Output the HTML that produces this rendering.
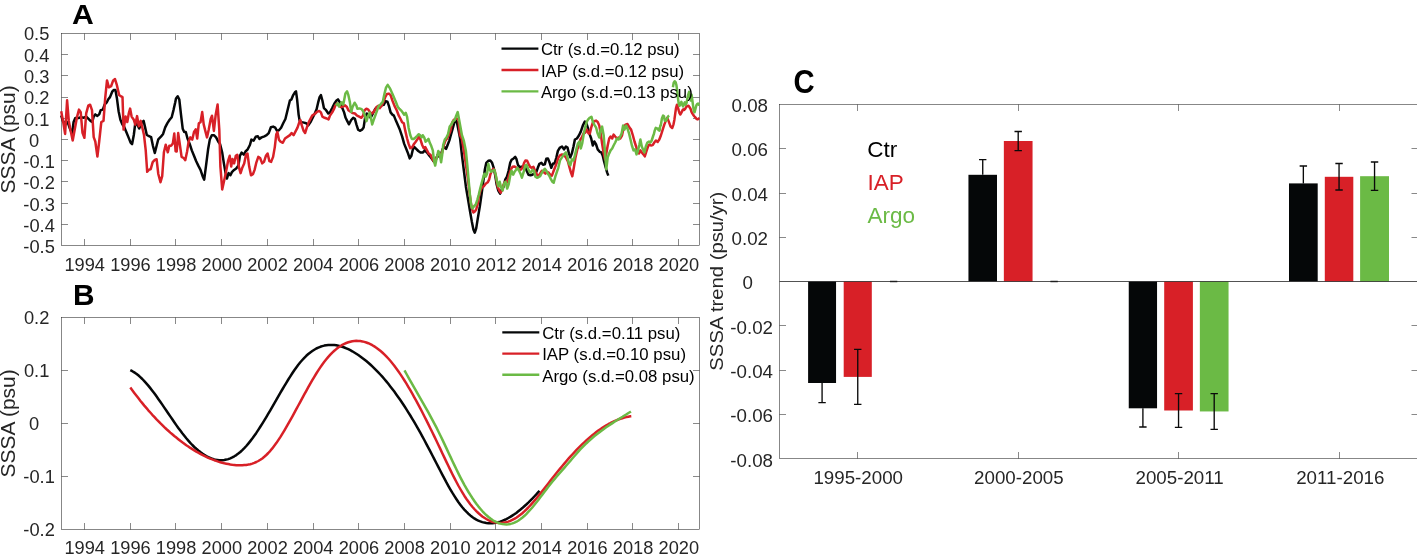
<!DOCTYPE html>
<html><head><meta charset="utf-8"><title>figure</title>
<style>
html,body{margin:0;padding:0;background:#fff;}
body{width:1417px;height:554px;overflow:hidden;}
svg{display:block;font-family:"Liberation Sans",sans-serif;will-change:transform;transform:translateZ(0);}
</style></head><body>
<svg width="1417" height="554" viewBox="0 0 1417 554">
<rect width="1417" height="554" fill="#fff"/>
<rect x="61.5" y="33.5" width="638.0" height="212.0" fill="none" stroke="#262626" stroke-width="0.55"/>
<path d="M84.50,245.5v-6.5M84.50,33.5v6.5M130.50,245.5v-6.5M130.50,33.5v6.5M175.50,245.5v-6.5M175.50,33.5v6.5M221.50,245.5v-6.5M221.50,33.5v6.5M267.50,245.5v-6.5M267.50,33.5v6.5M313.50,245.5v-6.5M313.50,33.5v6.5M358.50,245.5v-6.5M358.50,33.5v6.5M404.50,245.5v-6.5M404.50,33.5v6.5M450.50,245.5v-6.5M450.50,33.5v6.5M495.50,245.5v-6.5M495.50,33.5v6.5M541.50,245.5v-6.5M541.50,33.5v6.5M587.50,245.5v-6.5M587.50,33.5v6.5M632.50,245.5v-6.5M632.50,33.5v6.5M678.50,245.5v-6.5M678.50,33.5v6.5M61.5,224.50h6.5M699.5,224.50h-6.5M61.5,203.50h6.5M699.5,203.50h-6.5M61.5,181.50h6.5M699.5,181.50h-6.5M61.5,160.50h6.5M699.5,160.50h-6.5M61.5,139.50h6.5M699.5,139.50h-6.5M61.5,118.50h6.5M699.5,118.50h-6.5M61.5,97.50h6.5M699.5,97.50h-6.5M61.5,75.50h6.5M699.5,75.50h-6.5M61.5,54.50h6.5M699.5,54.50h-6.5" fill="none" stroke="#262626" stroke-width="0.55"/>
<text transform="translate(84.70,270.50) scale(1.03,1)" text-anchor="middle" font-size="17.7" fill="#262626" font-weight="normal" >1994</text>
<text transform="translate(130.40,270.50) scale(1.03,1)" text-anchor="middle" font-size="17.7" fill="#262626" font-weight="normal" >1996</text>
<text transform="translate(176.10,270.50) scale(1.03,1)" text-anchor="middle" font-size="17.7" fill="#262626" font-weight="normal" >1998</text>
<text transform="translate(221.80,270.50) scale(1.03,1)" text-anchor="middle" font-size="17.7" fill="#262626" font-weight="normal" >2000</text>
<text transform="translate(267.50,270.50) scale(1.03,1)" text-anchor="middle" font-size="17.7" fill="#262626" font-weight="normal" >2002</text>
<text transform="translate(313.20,270.50) scale(1.03,1)" text-anchor="middle" font-size="17.7" fill="#262626" font-weight="normal" >2004</text>
<text transform="translate(358.90,270.50) scale(1.03,1)" text-anchor="middle" font-size="17.7" fill="#262626" font-weight="normal" >2006</text>
<text transform="translate(404.60,270.50) scale(1.03,1)" text-anchor="middle" font-size="17.7" fill="#262626" font-weight="normal" >2008</text>
<text transform="translate(450.30,270.50) scale(1.03,1)" text-anchor="middle" font-size="17.7" fill="#262626" font-weight="normal" >2010</text>
<text transform="translate(496.00,270.50) scale(1.03,1)" text-anchor="middle" font-size="17.7" fill="#262626" font-weight="normal" >2012</text>
<text transform="translate(541.70,270.50) scale(1.03,1)" text-anchor="middle" font-size="17.7" fill="#262626" font-weight="normal" >2014</text>
<text transform="translate(587.40,270.50) scale(1.03,1)" text-anchor="middle" font-size="17.7" fill="#262626" font-weight="normal" >2016</text>
<text transform="translate(633.10,270.50) scale(1.03,1)" text-anchor="middle" font-size="17.7" fill="#262626" font-weight="normal" >2018</text>
<text transform="translate(678.80,270.50) scale(1.03,1)" text-anchor="middle" font-size="17.7" fill="#262626" font-weight="normal" >2020</text>
<text transform="translate(23.30,253.20) scale(1.035,1)" text-anchor="start" font-size="17.7" fill="#262626" font-weight="normal" >-0.5</text>
<text transform="translate(23.30,231.92) scale(1.035,1)" text-anchor="start" font-size="17.7" fill="#262626" font-weight="normal" >-0.4</text>
<text transform="translate(23.30,210.64) scale(1.035,1)" text-anchor="start" font-size="17.7" fill="#262626" font-weight="normal" >-0.3</text>
<text transform="translate(23.30,189.36) scale(1.035,1)" text-anchor="start" font-size="17.7" fill="#262626" font-weight="normal" >-0.2</text>
<text transform="translate(23.30,168.08) scale(1.035,1)" text-anchor="start" font-size="17.7" fill="#262626" font-weight="normal" >-0.1</text>
<text transform="translate(28.90,146.80) scale(1.035,1)" text-anchor="start" font-size="17.7" fill="#262626" font-weight="normal" >0</text>
<text transform="translate(23.90,125.52) scale(1.035,1)" text-anchor="start" font-size="17.7" fill="#262626" font-weight="normal" >0.1</text>
<text transform="translate(23.90,104.24) scale(1.035,1)" text-anchor="start" font-size="17.7" fill="#262626" font-weight="normal" >0.2</text>
<text transform="translate(23.90,82.96) scale(1.035,1)" text-anchor="start" font-size="17.7" fill="#262626" font-weight="normal" >0.3</text>
<text transform="translate(23.90,61.68) scale(1.035,1)" text-anchor="start" font-size="17.7" fill="#262626" font-weight="normal" >0.4</text>
<text transform="translate(23.90,40.40) scale(1.035,1)" text-anchor="start" font-size="17.7" fill="#262626" font-weight="normal" >0.5</text>
<text transform="translate(14.6,139.4) rotate(-90) scale(1.046,1)" text-anchor="middle" font-size="20" fill="#262626">SSSA (psu)</text>
<text transform="translate(72.00,23.70) scale(1.06,1)" text-anchor="start" font-size="28.5" fill="#000" font-weight="bold" >A</text>
<rect x="61.5" y="317.5" width="638.0" height="212.0" fill="none" stroke="#262626" stroke-width="0.55"/>
<path d="M84.50,529.5v-6.5M84.50,317.5v6.5M130.50,529.5v-6.5M130.50,317.5v6.5M175.50,529.5v-6.5M175.50,317.5v6.5M221.50,529.5v-6.5M221.50,317.5v6.5M267.50,529.5v-6.5M267.50,317.5v6.5M313.50,529.5v-6.5M313.50,317.5v6.5M358.50,529.5v-6.5M358.50,317.5v6.5M404.50,529.5v-6.5M404.50,317.5v6.5M450.50,529.5v-6.5M450.50,317.5v6.5M495.50,529.5v-6.5M495.50,317.5v6.5M541.50,529.5v-6.5M541.50,317.5v6.5M587.50,529.5v-6.5M587.50,317.5v6.5M632.50,529.5v-6.5M632.50,317.5v6.5M678.50,529.5v-6.5M678.50,317.5v6.5M61.5,476.50h6.5M699.5,476.50h-6.5M61.5,423.50h6.5M699.5,423.50h-6.5M61.5,370.50h6.5M699.5,370.50h-6.5" fill="none" stroke="#262626" stroke-width="0.55"/>
<text transform="translate(84.70,554.20) scale(1.03,1)" text-anchor="middle" font-size="17.7" fill="#262626" font-weight="normal" >1994</text>
<text transform="translate(130.40,554.20) scale(1.03,1)" text-anchor="middle" font-size="17.7" fill="#262626" font-weight="normal" >1996</text>
<text transform="translate(176.10,554.20) scale(1.03,1)" text-anchor="middle" font-size="17.7" fill="#262626" font-weight="normal" >1998</text>
<text transform="translate(221.80,554.20) scale(1.03,1)" text-anchor="middle" font-size="17.7" fill="#262626" font-weight="normal" >2000</text>
<text transform="translate(267.50,554.20) scale(1.03,1)" text-anchor="middle" font-size="17.7" fill="#262626" font-weight="normal" >2002</text>
<text transform="translate(313.20,554.20) scale(1.03,1)" text-anchor="middle" font-size="17.7" fill="#262626" font-weight="normal" >2004</text>
<text transform="translate(358.90,554.20) scale(1.03,1)" text-anchor="middle" font-size="17.7" fill="#262626" font-weight="normal" >2006</text>
<text transform="translate(404.60,554.20) scale(1.03,1)" text-anchor="middle" font-size="17.7" fill="#262626" font-weight="normal" >2008</text>
<text transform="translate(450.30,554.20) scale(1.03,1)" text-anchor="middle" font-size="17.7" fill="#262626" font-weight="normal" >2010</text>
<text transform="translate(496.00,554.20) scale(1.03,1)" text-anchor="middle" font-size="17.7" fill="#262626" font-weight="normal" >2012</text>
<text transform="translate(541.70,554.20) scale(1.03,1)" text-anchor="middle" font-size="17.7" fill="#262626" font-weight="normal" >2014</text>
<text transform="translate(587.40,554.20) scale(1.03,1)" text-anchor="middle" font-size="17.7" fill="#262626" font-weight="normal" >2016</text>
<text transform="translate(633.10,554.20) scale(1.03,1)" text-anchor="middle" font-size="17.7" fill="#262626" font-weight="normal" >2018</text>
<text transform="translate(678.80,554.20) scale(1.03,1)" text-anchor="middle" font-size="17.7" fill="#262626" font-weight="normal" >2020</text>
<text transform="translate(23.30,536.40) scale(1.035,1)" text-anchor="start" font-size="17.7" fill="#262626" font-weight="normal" >-0.2</text>
<text transform="translate(23.30,483.40) scale(1.035,1)" text-anchor="start" font-size="17.7" fill="#262626" font-weight="normal" >-0.1</text>
<text transform="translate(28.90,430.40) scale(1.035,1)" text-anchor="start" font-size="17.7" fill="#262626" font-weight="normal" >0</text>
<text transform="translate(23.90,377.40) scale(1.035,1)" text-anchor="start" font-size="17.7" fill="#262626" font-weight="normal" >0.1</text>
<text transform="translate(23.90,324.40) scale(1.035,1)" text-anchor="start" font-size="17.7" fill="#262626" font-weight="normal" >0.2</text>
<text transform="translate(14.6,423.4) rotate(-90) scale(1.046,1)" text-anchor="middle" font-size="20" fill="#262626">SSSA (psu)</text>
<text transform="translate(73.00,304.60) scale(1.03,1)" text-anchor="start" font-size="29.0" fill="#000" font-weight="bold" >B</text>
<rect x="779.5" y="104.5" width="638.5" height="354.0" fill="none" stroke="#262626" stroke-width="0.55"/>
<path d="M857.50,458.5v-6.5M857.50,104.5v6.5M1018.50,458.5v-6.5M1018.50,104.5v6.5M1178.50,458.5v-6.5M1178.50,104.5v6.5M1339.50,458.5v-6.5M1339.50,104.5v6.5M779.5,414.50h6.5M1418,414.50h-6.5M779.5,370.50h6.5M1418,370.50h-6.5M779.5,325.50h6.5M1418,325.50h-6.5M779.5,237.50h6.5M1418,237.50h-6.5M779.5,193.50h6.5M1418,193.50h-6.5M779.5,148.50h6.5M1418,148.50h-6.5" fill="none" stroke="#262626" stroke-width="0.55"/>
<text transform="translate(858.20,483.90) scale(1.03,1)" text-anchor="middle" font-size="18.2" fill="#262626" font-weight="normal" >1995-2000</text>
<text transform="translate(1018.90,483.90) scale(1.03,1)" text-anchor="middle" font-size="18.2" fill="#262626" font-weight="normal" >2000-2005</text>
<text transform="translate(1179.60,483.90) scale(1.03,1)" text-anchor="middle" font-size="18.2" fill="#262626" font-weight="normal" >2005-2011</text>
<text transform="translate(1340.30,483.90) scale(1.03,1)" text-anchor="middle" font-size="18.2" fill="#262626" font-weight="normal" >2011-2016</text>
<text transform="translate(730.30,466.60) scale(1.03,1)" text-anchor="start" font-size="18.2" fill="#262626" font-weight="normal" >-0.08</text>
<text transform="translate(730.30,422.26) scale(1.03,1)" text-anchor="start" font-size="18.2" fill="#262626" font-weight="normal" >-0.06</text>
<text transform="translate(730.30,377.92) scale(1.03,1)" text-anchor="start" font-size="18.2" fill="#262626" font-weight="normal" >-0.04</text>
<text transform="translate(730.30,333.59) scale(1.03,1)" text-anchor="start" font-size="18.2" fill="#262626" font-weight="normal" >-0.02</text>
<text transform="translate(742.40,289.25) scale(1.03,1)" text-anchor="start" font-size="18.2" fill="#262626" font-weight="normal" >0</text>
<text transform="translate(731.50,244.91) scale(1.03,1)" text-anchor="start" font-size="18.2" fill="#262626" font-weight="normal" >0.02</text>
<text transform="translate(731.50,200.58) scale(1.03,1)" text-anchor="start" font-size="18.2" fill="#262626" font-weight="normal" >0.04</text>
<text transform="translate(731.50,156.24) scale(1.03,1)" text-anchor="start" font-size="18.2" fill="#262626" font-weight="normal" >0.06</text>
<text transform="translate(731.50,111.90) scale(1.03,1)" text-anchor="start" font-size="18.2" fill="#262626" font-weight="normal" >0.08</text>
<text transform="translate(723,281.15) rotate(-90) scale(1.053,1)" text-anchor="middle" font-size="19.25" fill="#262626">SSSA trend (psu/yr)</text>
<text transform="translate(793.60,92.55) scale(0.9,1)" text-anchor="start" font-size="32.5" fill="#000" font-weight="bold" >C</text>
<rect x="808.10" y="281.50" width="27.95" height="101.50" fill="#050708"/>
<rect x="843.70" y="281.50" width="28.10" height="95.40" fill="#d82027"/>
<rect x="968.45" y="174.80" width="28.55" height="106.70" fill="#050708"/>
<rect x="1003.85" y="141.00" width="28.70" height="140.50" fill="#d82027"/>
<rect x="1128.75" y="281.50" width="28.30" height="126.80" fill="#050708"/>
<rect x="1164.20" y="281.50" width="28.70" height="129.00" fill="#d82027"/>
<rect x="1199.85" y="281.50" width="28.70" height="129.95" fill="#6bba45"/>
<rect x="1289.00" y="183.40" width="28.70" height="98.10" fill="#050708"/>
<rect x="1324.80" y="176.80" width="28.50" height="104.70" fill="#d82027"/>
<rect x="1360.10" y="176.20" width="28.90" height="105.30" fill="#6bba45"/>
<path d="M889.90,281.5h7.4" stroke="#000" stroke-width="1.4"/>
<path d="M1050.40,281.5h7.4" stroke="#000" stroke-width="1.4"/>
<path d="M822.08,383.00V402.60M818.38,402.60h7.4" stroke="#0a0a0a" stroke-width="1.35" fill="none"/>
<path d="M857.75,349.40V404.40M854.05,349.40h7.4M854.05,404.40h7.4" stroke="#0a0a0a" stroke-width="1.35" fill="none"/>
<path d="M982.73,159.65V174.80M979.02,159.65h7.4" stroke="#0a0a0a" stroke-width="1.35" fill="none"/>
<path d="M1018.20,131.50V150.55M1014.50,131.50h7.4M1014.50,150.55h7.4" stroke="#0a0a0a" stroke-width="1.35" fill="none"/>
<path d="M1142.90,408.30V426.95M1139.20,426.95h7.4" stroke="#0a0a0a" stroke-width="1.35" fill="none"/>
<path d="M1178.55,393.60V427.40M1174.85,393.60h7.4M1174.85,427.40h7.4" stroke="#0a0a0a" stroke-width="1.35" fill="none"/>
<path d="M1214.20,393.60V429.40M1210.50,393.60h7.4M1210.50,429.40h7.4" stroke="#0a0a0a" stroke-width="1.35" fill="none"/>
<path d="M1303.35,165.95V183.40M1299.65,165.95h7.4" stroke="#0a0a0a" stroke-width="1.35" fill="none"/>
<path d="M1339.05,163.50V189.95M1335.35,163.50h7.4M1335.35,189.95h7.4" stroke="#0a0a0a" stroke-width="1.35" fill="none"/>
<path d="M1374.55,162.00V190.40M1370.85,162.00h7.4M1370.85,190.40h7.4" stroke="#0a0a0a" stroke-width="1.35" fill="none"/>
<path d="M779.5,281.5H1418" stroke="#262626" stroke-width="0.8"/>
<text x="867.20" y="157.00" text-anchor="start" font-size="22.5" fill="#000" font-weight="normal" >Ctr</text>
<text x="867.60" y="189.80" text-anchor="start" font-size="22.5" fill="#d82027" font-weight="normal" >IAP</text>
<text x="867.60" y="222.70" text-anchor="start" font-size="22.5" fill="#6bba45" font-weight="normal" >Argo</text>
<clipPath id="ca"><rect x="60" y="33.5" width="640.5" height="212"/></clipPath><g clip-path="url(#ca)">
<path d="M61.2,115.5L62.8,120.9L65.6,124.2L67.7,122.0L69.9,128.5L72.1,133.9L73.6,122.0L75.3,118.1L78.6,118.1L80.7,117.2L84.0,117.7L86.2,116.6L88.3,118.7L90.5,120.9L92.2,122.0L93.7,116.6L95.3,114.4L97.4,115.9L99.2,114.4L100.7,110.1L102.8,109.6L104.6,104.7L106.7,102.5L108.3,99.2L110.0,97.1L112.2,91.7L113.9,89.9L115.4,89.9L116.9,98.2L118.6,111.2L120.4,119.8L122.3,124.2L124.1,126.8L126.2,131.7L128.4,137.1L130.6,142.6L132.1,144.1L133.8,135.0L135.3,123.1L137.1,124.2L139.2,128.5L141.4,123.1L143.6,120.9L145.1,127.4L146.8,135.0L149.0,136.1L151.1,137.1L152.9,145.8L154.8,153.0L156.6,145.8L158.3,139.3L160.9,136.7L163.1,133.9L165.2,127.4L167.4,123.1L169.6,119.8L171.7,117.2L173.5,110.1L175.2,102.5L176.0,98.4L177.7,96.2L179.3,99.5L181.0,114.7L182.7,128.7L184.2,132.0L185.8,132.0L187.5,138.5L189.7,143.9L191.8,150.4L194.0,155.8L196.2,161.2L198.3,165.6L200.5,169.9L202.7,176.4L204.2,179.6L205.9,166.6L208.1,149.3L209.8,139.6L211.8,135.2L213.9,135.2L216.1,137.4L218.3,141.7L220.0,143.9L222.2,152.6L223.9,163.4L225.4,172.1L226.9,178.6L228.6,173.1L230.4,175.3L231.9,172.1L234.1,169.9L236.2,168.4L238.4,165.6L239.9,155.8L241.6,152.6L243.8,154.7L245.5,151.5L247.7,149.3L249.9,145.0L251.4,139.6L253.6,140.6L255.7,136.8L257.9,136.3L259.4,138.9L261.6,137.4L264.4,136.3L266.6,135.2L268.7,133.1L270.9,127.2L273.1,126.6L275.2,127.7L277.0,130.9L278.9,130.3L281.1,127.7L283.2,123.3L285.4,119.0L289.9,100.5L291.4,99.4L293.2,95.1L294.9,92.3L296.0,91.4L297.1,99.4L298.6,114.6L299.7,121.1L301.8,122.1L304.0,122.6L306.2,123.2L308.3,125.4L310.5,122.1L312.7,117.8L314.8,113.5L316.6,109.2L318.1,102.7L319.6,97.2L320.9,95.1L322.4,100.5L323.9,108.1L326.1,110.2L328.3,113.5L330.0,112.4L332.2,108.1L334.3,103.7L336.5,100.5L338.0,99.4L339.7,102.2L341.9,107.0L344.1,112.4L345.6,117.8L347.3,121.1L349.0,124.3L351.2,120.0L353.2,117.8L354.9,118.9L356.4,124.3L358.1,129.7L359.9,130.8L362.0,129.7L363.6,127.6L365.1,117.8L366.8,113.5L369.0,114.6L370.7,117.8L372.9,113.5L375.0,109.2L377.2,107.0L379.4,105.9L381.5,105.3L383.7,104.8L385.7,101.1L387.4,101.6L388.9,105.9L390.6,112.4L392.4,114.6L393.9,115.6L396.1,121.1L399.9,129.8L402.1,136.3L404.2,143.9L406.4,149.3L408.1,153.6L409.7,158.4L411.4,155.8L412.9,149.3L414.4,147.1L416.2,148.9L418.3,151.0L420.5,152.6L422.7,152.6L424.8,150.4L427.0,152.6L429.2,155.4L431.3,158.0L433.1,160.6L434.6,162.3L436.1,158.4L437.8,154.7L439.6,156.9L441.1,153.6L442.6,149.3L444.3,147.1L446.1,148.9L447.6,145.0L449.3,140.6L450.8,135.2L452.3,129.8L454.1,123.3L455.6,120.1L456.9,122.2L458.4,129.8L460.1,138.5L461.9,154.9L463.9,170.8L465.9,186.7L467.9,198.6L469.9,210.5L471.8,221.4L473.4,229.4L474.8,232.7L476.2,228.4L477.8,218.4L479.8,206.5L481.8,192.6L483.4,180.7L484.8,169.8L486.3,162.8L488.3,160.8L490.3,160.4L492.1,162.8L493.7,167.8L495.3,175.7L496.7,184.7L498.3,190.6L500.1,193.6L501.6,189.6L503.6,186.7L505.2,179.7L507.0,176.7L508.6,170.8L510.2,162.8L511.6,159.8L513.6,158.4L515.2,156.9L516.5,159.2L517.9,164.8L519.5,167.2L521.5,166.8L523.5,166.4L525.5,167.8L527.1,171.8L528.5,174.7L530.5,175.3L532.4,174.7L534.4,173.7L536.4,171.8L537.8,167.8L539.4,163.8L541.4,162.8L543.0,164.8L544.8,164.4L546.3,158.8L547.9,158.4L549.7,162.8L551.3,167.8L552.9,163.8L554.7,163.2L556.3,157.8L557.9,150.9L560.0,147.5L562.0,146.5L564.0,149.4L565.9,146.5L567.5,147.5L568.9,153.4L570.3,157.4L571.9,153.4L573.5,146.5L574.9,139.5L576.9,138.5L578.9,135.5L580.8,131.6L582.8,125.6L584.8,121.6L586.2,122.6L587.8,127.6L589.4,133.6L591.2,138.5L592.8,145.5L594.3,141.5L596.1,144.5L597.7,149.4L599.7,151.8L601.3,152.4L602.7,155.4L604.1,161.4L605.7,167.3L607.1,172.3L608.3,175.7" fill="none" stroke="#050708" stroke-width="2.5" stroke-linejoin="round" stroke-linecap="butt"/>
<path d="M61.2,111.2L63.0,120.9L65.1,133.9L67.1,100.3L68.8,120.9L70.6,130.6L72.7,140.4L74.9,128.5L77.1,116.6L79.0,109.6L80.7,112.2L82.5,132.8L84.4,137.8L86.2,113.3L88.3,105.7L90.1,104.7L92.0,110.1L93.7,137.1L95.3,141.5L97.4,156.6L99.2,141.5L101.3,122.0L103.5,120.9L105.2,98.2L107.0,80.4L108.9,87.3L111.1,86.2L113.2,80.4L115.0,79.1L116.9,85.2L119.1,94.9L121.2,96.4L122.5,97.1L123.6,129.6L125.6,116.6L127.3,122.0L128.8,113.3L130.1,108.6L131.6,116.6L133.8,119.8L135.3,124.6L137.1,116.1L138.8,126.3L140.7,120.9L142.5,128.5L144.0,135.0L145.7,150.1L147.2,171.8L149.0,169.6L150.7,169.2L152.7,162.1L154.8,159.9L156.6,159.2L158.3,174.0L160.5,182.2L162.2,176.1L163.9,152.3L165.7,144.7L167.8,152.3L169.3,145.8L171.1,145.8L172.8,143.6L174.3,133.5L175.6,151.2L176.7,151.5L178.2,133.1L179.9,145.0L181.6,156.9L183.6,158.0L185.3,160.1L187.1,151.5L188.6,141.7L190.3,137.4L192.3,139.6L194.0,132.0L195.7,129.4L197.2,138.5L198.8,123.3L200.5,122.2L202.2,112.1L203.7,124.4L205.3,130.9L207.0,137.4L208.7,129.8L210.7,119.0L212.0,115.7L213.9,130.9L215.7,114.7L217.6,104.5L219.3,129.8L220.4,166.6L222.2,189.4L223.9,181.8L225.8,173.1L228.0,161.2L229.7,155.8L231.2,166.6L232.5,159.1L234.1,163.4L235.8,155.8L237.3,154.7L239.0,167.7L240.6,173.1L242.3,167.7L244.2,163.4L246.0,154.7L247.5,153.6L249.2,166.6L251.0,175.3L252.9,174.2L254.6,169.9L256.4,162.3L258.3,156.9L260.1,158.0L262.2,163.4L264.0,161.9L265.9,155.8L267.6,153.6L269.4,161.2L271.1,161.9L273.1,156.9L274.8,147.1L276.3,134.2L277.4,132.0L278.9,139.6L280.6,141.7L282.8,142.8L285.0,138.5L289.9,135.1L291.6,133.0L293.6,135.1L295.3,131.9L297.5,127.6L299.0,123.2L300.3,120.0L301.8,125.4L303.6,130.8L305.1,133.0L306.8,127.6L308.8,122.1L310.5,118.9L312.2,115.6L313.7,114.6L315.3,113.5L317.0,111.8L319.2,110.9L320.9,112.4L322.4,116.7L324.6,117.8L326.7,118.5L328.5,119.5L330.0,115.6L332.2,112.4L333.9,109.2L335.4,105.3L336.9,103.7L338.6,105.3L340.8,107.0L343.0,106.6L345.1,105.3L346.9,107.0L348.4,110.2L350.6,111.8L352.7,113.1L354.9,113.5L357.1,115.6L359.2,116.7L361.4,117.8L363.1,115.6L364.6,110.2L366.4,108.7L368.3,109.6L370.1,112.4L372.2,113.5L374.4,110.9L376.6,107.0L378.3,105.9L379.8,108.1L381.5,105.9L383.5,101.6L385.2,97.2L387.0,94.0L388.9,93.6L390.6,95.1L392.4,100.5L394.5,105.9L396.7,110.2L398.8,115.7L400.6,119.0L402.1,122.2L403.8,123.3L405.3,130.9L407.1,138.5L408.6,143.9L410.3,148.2L412.3,147.1L414.0,143.9L415.7,141.7L417.2,139.6L419.0,136.8L420.5,139.6L422.2,145.0L423.7,148.2L425.3,147.1L427.0,150.4L428.7,153.6L430.5,154.7L432.4,159.1L434.1,161.9L435.7,160.1L437.4,155.8L438.9,152.6L440.4,155.8L442.2,152.6L443.9,145.0L445.4,140.6L447.1,138.5L448.6,135.2L450.4,130.9L451.9,123.3L453.6,120.1L455.1,119.0L456.9,118.6L458.4,119.0L459.9,135.0L461.9,139.0L463.9,150.9L465.9,164.8L467.9,178.7L469.5,192.6L470.8,202.5L472.2,209.5L473.4,212.5L474.8,211.5L476.2,209.5L477.8,203.5L479.2,194.6L480.8,189.6L482.2,187.1L483.8,186.3L485.7,183.7L487.7,182.3L489.1,179.7L490.3,174.7L491.7,170.8L493.3,168.8L494.7,170.8L496.3,178.7L497.7,186.7L499.3,190.6L500.6,192.6L502.0,190.6L503.6,184.7L505.2,181.7L506.6,182.7L508.2,178.7L509.6,173.7L511.2,168.8L512.6,166.8L514.6,166.4L516.5,167.8L518.5,169.2L520.5,169.8L522.5,167.8L524.1,162.8L525.5,160.4L527.1,160.8L528.5,163.8L530.1,166.8L531.4,167.8L533.4,166.8L535.4,171.8L537.0,174.7L538.4,175.7L540.0,173.7L541.8,170.8L543.4,171.8L545.4,173.7L546.9,171.8L548.7,172.7L550.3,174.7L551.9,175.7L553.3,171.8L554.9,167.8L556.7,162.8L558.3,157.8L560.0,155.4L562.0,154.4L564.0,155.4L565.9,157.4L567.9,161.4L569.5,167.3L570.9,172.3L572.3,176.3L573.9,167.3L575.5,157.4L577.3,149.4L578.9,145.5L580.4,139.5L581.8,137.5L583.4,133.6L585.2,132.6L586.8,129.6L588.4,133.2L589.8,133.6L591.2,127.6L592.8,122.6L594.3,121.2L596.1,120.6L597.7,122.0L599.3,125.6L600.7,133.6L602.1,143.5L603.7,153.4L605.1,159.4L606.3,153.4L607.7,145.5L609.2,138.5L610.6,136.5L612.2,138.5L613.6,134.6L615.2,136.5L617.0,138.5L618.6,137.5L620.2,138.5L622.0,135.5L623.5,128.6L625.5,124.6L627.5,124.0L629.5,127.6L631.1,129.6L632.9,135.5L634.5,141.5L636.1,146.5L637.4,151.4L639.0,153.4L640.4,150.4L641.8,152.4L643.4,154.4L644.8,156.4L646.4,151.4L648.0,146.5L649.4,144.5L651.0,145.5L652.7,145.1L654.3,142.5L655.9,140.5L657.7,141.9L659.3,139.5L660.9,135.5L662.7,129.6L664.3,124.6L665.9,120.6L667.2,117.7L668.8,121.6L670.6,126.6L672.2,128.0L673.5,124.3L674.4,119.7L675.2,113.9L676.0,108.1L677.0,104.7L677.8,107.0L678.7,110.4L679.6,113.3L680.4,114.5L681.4,112.7L682.4,110.4L683.3,109.3L684.2,109.9L685.3,108.7L686.2,107.0L687.4,106.0L688.5,105.8L689.4,107.0L690.5,108.7L691.4,111.6L692.3,113.3L693.4,115.1L694.3,116.2L695.5,117.6L696.6,119.1L697.8,119.4L698.9,118.5L699.5,118.3" fill="none" stroke="#d82027" stroke-width="2.5" stroke-linejoin="round" stroke-linecap="butt"/>
<path d="M335.7,105.4L337.9,103.3L338.9,106.5L341.7,102.2L343.3,104.4L345.4,93.5L347.1,91.4L348.4,95.2L349.8,101.7L351.2,111.9L352.5,107.1L354.6,102.7L356.3,105.4L357.3,108.7L359.5,108.4L361.7,109.2L363.3,111.4L364.9,115.7L366.5,121.1L368.2,115.7L369.8,112.5L370.9,117.9L372.2,124.4L373.6,120.1L375.2,115.7L376.8,111.4L378.5,106.5L380.6,104.4L382.8,101.7L384.4,94.1L386.0,87.6L387.7,84.9L389.8,88.1L392.5,94.1L395.8,101.7L397.9,107.1L399.3,108.6L401.0,110.3L402.7,112.5L404.2,114.7L405.8,112.9L407.1,116.8L408.6,127.7L410.3,135.2L411.8,138.9L413.6,138.9L415.5,137.4L417.2,135.9L418.8,134.2L420.1,135.2L421.6,137.4L422.7,135.2L424.2,137.4L425.5,141.7L427.0,140.6L428.5,138.9L429.8,142.8L431.3,146.1L432.8,150.4L434.1,161.2L435.2,165.6L436.7,158.0L438.3,151.0L439.6,153.6L441.1,162.3L442.2,154.7L443.2,145.0L444.8,139.6L446.5,137.4L448.0,134.2L449.7,126.6L451.5,124.4L453.0,121.2L454.7,120.1L456.2,115.7L457.7,112.1L461.9,135.0L463.9,141.0L465.9,150.9L467.3,164.8L468.5,178.7L469.9,194.6L471.2,205.5L472.4,208.5L473.8,206.5L475.8,204.5L477.4,199.6L478.8,194.6L480.2,188.6L481.8,182.7L483.2,177.7L484.4,173.7L485.7,176.7L487.1,173.7L488.3,163.8L489.7,169.8L491.1,171.8L492.7,170.8L494.3,169.8L495.7,174.7L497.1,181.7L498.3,186.3L499.7,181.7L501.0,187.1L502.6,190.6L504.0,183.7L505.6,181.7L507.2,188.6L508.6,184.7L510.2,175.7L511.6,170.8L513.2,174.7L514.6,171.8L516.1,169.8L517.5,167.8L519.1,170.8L520.5,173.7L521.9,177.7L523.5,172.7L525.1,165.8L526.5,164.8L528.1,168.8L529.5,171.8L531.0,172.7L532.4,169.8L534.0,170.8L535.4,176.7L537.0,177.7L538.4,177.3L540.0,176.3L541.4,173.7L543.0,170.8L544.8,168.8L546.3,170.8L547.9,173.7L549.3,175.7L550.9,179.1L552.3,181.7L553.7,182.7L555.3,176.7L556.9,171.8L558.3,167.8L560.0,160.4L562.0,157.4L564.0,154.4L565.9,152.4L567.5,157.4L568.9,163.4L570.3,165.3L571.9,159.4L573.5,160.4L574.9,155.4L576.3,149.4L577.9,143.5L579.5,141.5L580.8,148.5L582.2,143.5L583.8,133.6L585.4,126.6L586.8,121.6L588.2,119.3L589.8,117.7L591.4,116.7L592.8,121.6L594.3,124.6L596.1,127.6L597.7,133.6L599.3,137.5L600.7,129.6L602.1,126.6L603.7,135.5L605.1,153.4L606.3,169.3L607.7,157.4L609.2,153.4L610.6,150.4L612.2,148.5L613.6,145.5L615.2,142.5L617.0,138.5L618.6,139.5L620.2,136.5L621.6,133.6L623.1,125.6L624.5,129.6L626.1,125.6L627.5,128.6L629.1,133.6L630.5,139.5L631.9,145.5L633.5,150.4L635.1,149.4L636.5,154.4L637.8,151.4L639.4,144.5L640.4,139.5L641.8,146.5L643.0,149.4L644.4,152.4L645.8,146.5L647.4,142.5L649.0,141.5L650.4,142.5L651.7,140.5L653.3,135.5L653.9,134.0L654.7,130.6L655.8,127.8L657.1,128.3L658.5,130.1L658.9,128.6L659.6,130.6L660.3,125.6L660.8,125.5L661.9,118.5L663.1,115.6L664.0,116.2L664.8,120.8L666.0,120.8L667.1,118.5L668.3,116.2L669.1,115.6" fill="none" stroke="#6bba45" stroke-width="2.5" stroke-linejoin="round" stroke-linecap="butt"/>
<path d="M672.9,87.3L673.7,82.7L674.7,81.3L675.6,82.1L676.4,85.0L677.2,90.8L677.9,97.7L678.7,103.5L679.6,105.8L680.4,104.1L681.4,101.8L682.2,104.7L683.1,106.4L683.9,104.1L684.8,102.3L685.6,104.7L686.6,102.9L687.4,98.3L688.2,94.8L689.1,91.9L689.9,97.1L690.8,100.6L691.6,94.8L692.3,100.0L693.1,105.8L693.9,111.6L694.6,112.2L695.5,108.7L696.4,105.2L697.2,104.1L698.1,103.5L698.9,104.7L699.5,104.7" fill="none" stroke="#6bba45" stroke-width="2.5" stroke-linejoin="round" stroke-linecap="butt"/>
</g>
<path d="M130.3,370.2L132.3,371.2L134.3,372.4L136.3,373.7L138.3,375.3L140.3,377.1L142.3,379.0L144.3,381.1L146.3,383.3L148.3,385.6L150.3,388.1L152.3,390.7L154.3,393.3L156.3,396.1L158.3,398.9L160.3,401.7L162.3,404.6L164.3,407.6L166.3,410.5L168.3,413.5L170.3,416.4L172.3,419.3L174.3,422.2L176.3,425.1L178.3,427.9L180.3,430.6L182.3,433.3L184.3,435.8L186.3,438.3L188.3,440.6L190.3,442.9L192.3,445.0L194.3,447.0L196.3,448.8L198.3,450.5L200.3,452.1L202.3,453.6L204.3,454.9L206.3,456.1L208.3,457.1L210.3,458.0L212.3,458.8L214.3,459.4L216.3,459.8L218.3,460.1L220.3,460.2L222.3,460.2L224.3,460.0L226.3,459.6L228.3,459.1L230.3,458.3L232.3,457.4L234.3,456.3L236.3,455.1L238.3,453.6L240.3,452.0L242.3,450.1L244.3,448.1L246.3,446.0L248.3,443.6L250.3,441.1L252.3,438.5L254.3,435.7L256.3,432.9L258.3,429.9L260.3,426.8L262.3,423.6L264.3,420.4L266.3,417.1L268.3,413.7L270.3,410.3L272.3,406.8L274.3,403.4L276.3,399.9L278.3,396.4L280.3,392.9L282.3,389.5L284.3,386.1L286.3,382.8L288.3,379.5L290.3,376.4L292.3,373.3L294.3,370.3L296.3,367.5L298.3,364.8L300.3,362.3L302.3,360.0L304.3,357.8L306.3,355.8L308.3,354.0L310.3,352.4L312.3,351.0L314.3,349.7L316.3,348.5L318.3,347.6L320.3,346.8L322.3,346.1L324.3,345.6L326.3,345.2L328.3,345.0L330.3,344.9L332.3,344.9L334.3,345.1L336.3,345.3L338.3,345.7L340.3,346.2L342.3,346.8L344.3,347.5L346.3,348.3L348.3,349.2L350.3,350.2L352.3,351.3L354.3,352.5L356.3,353.7L358.3,355.0L360.3,356.4L362.3,357.9L364.3,359.4L366.3,361.0L368.3,362.7L370.3,364.5L372.3,366.4L374.3,368.3L376.3,370.3L378.3,372.4L380.3,374.5L382.3,376.7L384.3,379.0L386.3,381.4L388.3,383.8L390.3,386.4L392.3,389.0L394.3,391.6L396.3,394.4L398.3,397.2L400.3,400.0L402.3,403.0L404.3,406.0L406.3,409.1L408.3,412.3L410.3,415.5L412.3,418.8L414.3,422.2L416.3,425.6L418.3,429.1L420.3,432.7L422.3,436.3L424.3,440.0L426.3,443.8L428.3,447.6L430.3,451.4L432.3,455.3L434.3,459.1L436.3,463.0L438.3,466.9L440.3,470.8L442.3,474.6L444.3,478.4L446.3,482.2L448.3,485.8L450.3,489.3L452.3,492.7L454.3,495.9L456.3,499.0L458.3,502.0L460.3,504.7L462.3,507.3L464.3,509.6L466.3,511.7L468.3,513.7L470.3,515.4L472.3,517.0L474.3,518.4L476.3,519.6L478.3,520.6L480.3,521.4L482.3,522.1L484.3,522.6L486.3,523.0L488.3,523.2L490.3,523.3L492.3,523.2L494.3,523.0L496.3,522.6L498.3,522.2L500.3,521.6L502.3,520.8L504.3,520.0L506.3,519.1L508.3,518.0L510.3,516.9L512.3,515.6L514.3,514.3L516.3,512.9L518.3,511.3L520.3,509.7L522.3,508.1L524.3,506.3L526.3,504.5L528.3,502.6L530.3,500.6L532.3,498.6L534.3,496.5L536.3,494.4L538.3,492.2L539.6,490.8" fill="none" stroke="#050708" stroke-width="2.5" stroke-linejoin="round"/>
<path d="M130.3,387.5L132.3,390.2L134.3,392.9L136.3,395.5L138.3,398.1L140.3,400.7L142.3,403.1L144.3,405.6L146.3,407.9L148.3,410.3L150.3,412.5L152.3,414.8L154.3,416.9L156.3,419.1L158.3,421.1L160.3,423.2L162.3,425.1L164.3,427.1L166.3,429.0L168.3,430.8L170.3,432.6L172.3,434.3L174.3,436.0L176.3,437.6L178.3,439.2L180.3,440.8L182.3,442.3L184.3,443.7L186.3,445.2L188.3,446.5L190.3,447.9L192.3,449.1L194.3,450.4L196.3,451.6L198.3,452.7L200.3,453.8L202.3,454.9L204.3,455.9L206.3,456.8L208.3,457.8L210.3,458.6L212.3,459.4L214.3,460.2L216.3,460.9L218.3,461.6L220.3,462.2L222.3,462.8L224.3,463.3L226.3,463.7L228.3,464.1L230.3,464.5L232.3,464.8L234.3,465.0L236.3,465.2L238.3,465.3L240.3,465.3L242.3,465.3L244.3,465.1L246.3,464.9L248.3,464.6L250.3,464.2L252.3,463.6L254.3,462.9L256.3,462.0L258.3,461.0L260.3,459.8L262.3,458.4L264.3,456.8L266.3,455.0L268.3,453.0L270.3,450.8L272.3,448.4L274.3,445.8L276.3,443.1L278.3,440.1L280.3,437.1L282.3,433.9L284.3,430.6L286.3,427.2L288.3,423.7L290.3,420.2L292.3,416.6L294.3,412.9L296.3,409.2L298.3,405.5L300.3,401.8L302.3,398.1L304.3,394.4L306.3,390.8L308.3,387.2L310.3,383.6L312.3,380.2L314.3,376.8L316.3,373.5L318.3,370.4L320.3,367.4L322.3,364.5L324.3,361.8L326.3,359.3L328.3,356.9L330.3,354.7L332.3,352.6L334.3,350.8L336.3,349.1L338.3,347.5L340.3,346.2L342.3,344.9L344.3,343.9L346.3,343.0L348.3,342.3L350.3,341.7L352.3,341.2L354.3,341.0L356.3,340.8L358.3,340.9L360.3,341.1L362.3,341.4L364.3,341.9L366.3,342.5L368.3,343.2L370.3,344.1L372.3,345.2L374.3,346.4L376.3,347.7L378.3,349.2L380.3,350.8L382.3,352.5L384.3,354.4L386.3,356.4L388.3,358.5L390.3,360.8L392.3,363.2L394.3,365.7L396.3,368.4L398.3,371.2L400.3,374.1L402.3,377.1L404.3,380.2L406.3,383.4L408.3,386.8L410.3,390.2L412.3,393.7L414.3,397.3L416.3,400.9L418.3,404.7L420.3,408.4L422.3,412.3L424.3,416.2L426.3,420.1L428.3,424.1L430.3,428.2L432.3,432.2L434.3,436.4L436.3,440.5L438.3,444.7L440.3,448.9L442.3,453.2L444.3,457.4L446.3,461.6L448.3,465.8L450.3,469.9L452.3,474.0L454.3,477.9L456.3,481.8L458.3,485.5L460.3,489.0L462.3,492.4L464.3,495.7L466.3,498.7L468.3,501.5L470.3,504.2L472.3,506.7L474.3,509.0L476.3,511.1L478.3,513.0L480.3,514.8L482.3,516.4L484.3,517.8L486.3,519.0L488.3,520.1L490.3,521.0L492.3,521.7L494.3,522.2L496.3,522.6L498.3,522.9L500.3,522.9L502.3,522.8L504.3,522.6L506.3,522.1L508.3,521.6L510.3,520.8L512.3,519.9L514.3,518.9L516.3,517.7L518.3,516.3L520.3,514.8L522.3,513.2L524.3,511.4L526.3,509.5L528.3,507.5L530.3,505.4L532.3,503.2L534.3,500.9L536.3,498.5L538.3,496.1L540.3,493.6L542.3,491.1L544.3,488.6L546.3,486.0L548.3,483.4L550.3,480.9L552.3,478.3L554.3,475.8L556.3,473.3L558.3,470.8L560.3,468.4L562.3,466.0L564.3,463.6L566.3,461.2L568.3,458.9L570.3,456.7L572.3,454.5L574.3,452.3L576.3,450.2L578.3,448.1L580.3,446.1L582.3,444.2L584.3,442.3L586.3,440.4L588.3,438.6L590.3,436.9L592.3,435.3L594.3,433.7L596.3,432.1L598.3,430.6L600.3,429.2L602.3,427.9L604.3,426.6L606.3,425.4L608.3,424.2L610.3,423.2L612.3,422.1L614.3,421.2L616.3,420.3L618.3,419.5L620.3,418.8L622.3,418.2L624.3,417.6L626.3,417.1L628.3,416.7L630.3,416.3L631.3,416.2" fill="none" stroke="#d82027" stroke-width="2.5" stroke-linejoin="round"/>
<path d="M404.5,370.3L406.5,374.0L408.5,377.6L410.5,381.2L412.5,384.7L414.5,388.2L416.5,391.7L418.5,395.2L420.5,398.6L422.5,402.1L424.5,405.6L426.5,409.2L428.5,412.7L430.5,416.4L432.5,420.1L434.5,423.9L436.5,427.7L438.5,431.7L440.5,435.8L442.5,439.9L444.5,444.1L446.5,448.4L448.5,452.7L450.5,456.9L452.5,461.2L454.5,465.4L456.5,469.5L458.5,473.6L460.5,477.6L462.5,481.4L464.5,485.1L466.5,488.6L468.5,492.0L470.5,495.2L472.5,498.3L474.5,501.2L476.5,504.0L478.5,506.6L480.5,509.0L482.5,511.3L484.5,513.4L486.5,515.3L488.5,517.0L490.5,518.6L492.5,520.0L494.5,521.2L496.5,522.2L498.5,523.0L500.5,523.6L502.5,524.1L504.5,524.3L506.5,524.4L508.5,524.3L510.5,523.9L512.5,523.4L514.5,522.6L516.5,521.7L518.5,520.5L520.5,519.1L522.5,517.5L524.5,515.8L526.5,513.8L528.5,511.7L530.5,509.5L532.5,507.2L534.5,504.8L536.5,502.3L538.5,499.7L540.5,497.1L542.5,494.5L544.5,491.8L546.5,489.2L548.5,486.6L550.5,484.0L552.5,481.5L554.5,479.1L556.5,476.8L558.5,474.4L560.5,472.2L562.5,469.9L564.5,467.6L566.5,465.3L568.5,463.0L570.5,460.7L572.5,458.3L574.5,456.0L576.5,453.7L578.5,451.4L580.5,449.2L582.5,447.2L584.5,445.2L586.5,443.2L588.5,441.4L590.5,439.6L592.5,437.8L594.5,436.1L596.5,434.5L598.5,433.0L600.5,431.4L602.5,430.0L604.5,428.5L606.5,427.1L608.5,425.7L610.5,424.4L612.5,423.1L614.5,421.8L616.5,420.5L618.5,419.3L620.5,418.0L622.5,416.8L624.5,415.5L626.5,414.3L628.5,413.0L630.5,411.8L630.9,411.5" fill="none" stroke="#6bba45" stroke-width="2.5" stroke-linejoin="round"/>
<path d="M501.5,48.60H538.4" stroke="#050708" stroke-width="2.4"/>
<text x="540.90" y="55.10" text-anchor="start" font-size="16.72" fill="#000" font-weight="normal" >Ctr (s.d.=0.12 psu)</text>
<path d="M501.5,70.00H538.4" stroke="#d82027" stroke-width="2.4"/>
<text x="540.90" y="76.60" text-anchor="start" font-size="16.72" fill="#000" font-weight="normal" >IAP (s.d.=0.12 psu)</text>
<path d="M501.5,91.40H538.4" stroke="#6bba45" stroke-width="2.4"/>
<text x="540.90" y="98.10" text-anchor="start" font-size="16.72" fill="#000" font-weight="normal" >Argo (s.d.=0.13 psu)</text>
<path d="M502.3,332.40H539.3" stroke="#050708" stroke-width="2.4"/>
<text x="542.20" y="338.80" text-anchor="start" font-size="16.8" fill="#000" font-weight="normal" >Ctr (s.d.=0.11 psu)</text>
<path d="M502.3,353.60H539.3" stroke="#d82027" stroke-width="2.4"/>
<text x="542.20" y="360.30" text-anchor="start" font-size="16.8" fill="#000" font-weight="normal" >IAP (s.d.=0.10 psu)</text>
<path d="M502.3,374.80H539.3" stroke="#6bba45" stroke-width="2.4"/>
<text x="542.20" y="381.80" text-anchor="start" font-size="16.8" fill="#000" font-weight="normal" >Argo (s.d.=0.08 psu)</text>
</svg>
</body></html>
